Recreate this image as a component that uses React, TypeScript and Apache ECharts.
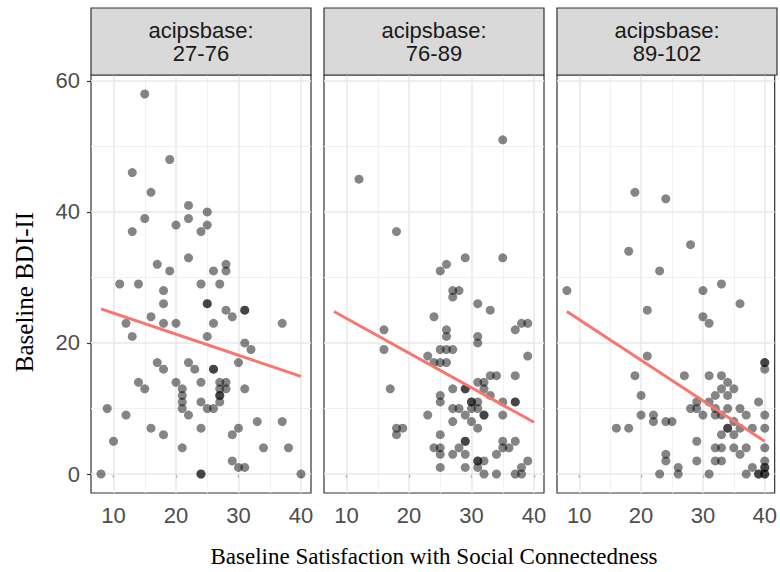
import React, { useEffect, useRef } from "react";
import * as echarts from "echarts";

// Facet labels
const facetLabels = ["acipsbase:\n27-76", "acipsbase:\n76-89", "acipsbase:\n89-102"];

// Axis ticks
const xTicks = [10, 20, 30, 40];
const xMinorTicks = [15, 25, 35];
const yTicks = [0, 20, 40, 60];
const yMinorTicks = [10, 30, 50];

// Axis titles
const xTitle = "Baseline Satisfaction with Social Connectedness";
const yTitle = "Baseline BDI-II";

// Panel 1: acipsbase 27-76  [satisfaction, BDI-II]
const panel1Points = [
  [15, 58], [19, 48], [13, 46], [16, 43], [22, 41], [25, 40], [15, 39], [22, 39], [20, 38], [25, 38],
  [13, 37], [24, 37], [22, 33], [17, 32], [28, 32], [19, 31], [26, 31], [28, 31], [11, 29], [14, 29],
  [24, 29], [27, 29], [18, 28], [18, 26], [25, 26], [25, 26], [28, 25], [31, 25], [31, 25], [16, 24],
  [29, 24], [12, 23], [18, 23], [20, 23], [26, 23], [37, 23], [13, 21], [25, 21], [31, 20], [32, 19],
  [17, 17], [18, 16], [22, 17], [23, 16], [26, 16], [26, 16], [30, 17], [14, 14], [15, 13], [20, 14],
  [21, 13], [24, 14], [27, 14], [28, 14], [27, 13], [28, 13], [27, 12], [27, 12], [21, 12], [21, 11],
  [21, 10], [24, 11], [31, 13], [25, 10], [26, 10], [27, 11], [9, 10], [12, 9], [22, 9], [16, 7],
  [18, 6], [24, 7], [33, 8], [37, 8], [30, 7], [29, 6], [10, 5], [21, 4], [34, 4], [38, 4],
  [29, 2], [30, 1], [31, 1], [8, 0], [24, 0], [24, 0], [40, 0],
];

// Panel 2: acipsbase 76-89
const panel2Points = [
  [35, 51], [12, 45], [18, 37], [29, 33], [35, 33], [26, 32], [25, 31],
  [27, 28], [28, 28], [27, 27], [31, 26], [33, 25], [24, 24], [16, 22], [26, 22], [26, 21], [31, 21],
  [31, 20], [37, 22], [38, 23], [39, 23], [16, 19], [25, 19], [26, 19], [27, 19], [23, 18], [24, 17],
  [25, 17], [26, 17], [39, 18], [33, 15], [34, 15], [37, 15], [31, 14], [32, 14], [17, 13], [27, 13],
  [29, 13], [29, 13], [32, 13], [25, 12], [25, 11], [33, 12], [30, 11], [30, 11], [31, 11], [35, 11],
  [37, 11], [37, 11], [27, 10], [28, 10], [30, 10], [31, 10], [23, 9], [29, 9], [32, 9], [32, 9],
  [35, 9], [27, 8], [30, 8], [31, 7], [18, 7], [19, 7], [18, 6], [25, 6], [29, 5], [29, 5],
  [35, 5], [37, 5], [24, 4], [25, 4], [28, 4], [34, 3], [35, 4], [36, 4], [25, 3], [27, 3],
  [29, 3], [31, 2], [31, 2], [32, 2], [39, 2], [38, 1], [37, 0], [38, 0], [25, 1], [29, 1],
  [31, 1], [32, 0], [34, 0],
];

// Panel 3: acipsbase 89-102
const panel3Points = [
  [19, 43], [24, 42], [28, 35], [18, 34], [23, 31], [33, 29], [8, 28], [30, 28], [36, 26], [21, 25],
  [30, 24], [31, 23], [21, 18], [40, 17], [40, 17], [40, 16], [19, 15], [27, 15], [31, 15], [33, 15],
  [34, 14], [33, 13], [35, 13], [20, 12], [32, 12], [34, 12], [39, 11], [29, 11], [31, 11], [28, 10],
  [29, 10], [32, 10], [34, 10], [36, 10], [20, 9], [22, 9], [30, 9], [32, 9], [33, 9], [37, 9],
  [40, 9], [22, 8], [24, 8], [25, 8], [35, 8], [16, 7], [18, 7], [34, 7], [34, 7], [36, 7],
  [38, 7], [40, 7], [33, 6], [35, 6], [29, 5], [32, 4], [33, 4], [35, 4], [37, 4], [40, 4],
  [36, 3], [24, 3], [24, 2], [29, 2], [32, 2], [33, 2], [40, 2], [26, 1], [38, 1], [40, 1],
  [40, 1], [23, 0], [26, 0], [31, 0], [37, 0], [39, 0], [39, 0], [40, 0], [40, 0],
];

// Linear fit endpoints per panel [x, y]
const fitPanel1 = [[8, 25.2], [40, 14.9]];
const fitPanel2 = [[8, 24.8], [40, 7.9]];
const fitPanel3 = [[8, 24.8], [40, 5.0]];

const panels = [panel1Points, panel2Points, panel3Points];
const fits = [fitPanel1, fitPanel2, fitPanel3];

export default function App() {
  const ref = useRef<HTMLDivElement>(null);

  useEffect(() => {
    if (!ref.current) return;
    const chart = echarts.init(ref.current, null, { renderer: "svg" });

    const lefts = [91, 324, 557];
    const pw = 220;
    const top = 75;
    const ph = 418;
    const stripTop = 8;
    const sansFont = "'Liberation Sans', Arial, sans-serif";
    const serifFont = "'Liberation Serif', 'Times New Roman', serif";

    const grid = lefts.map((l) => ({
      left: l,
      top,
      width: pw,
      height: ph,
      show: true,
      borderColor: "#333333",
      borderWidth: 1.2,
      backgroundColor: "#ffffff",
    }));

    const xAxis = lefts.map((_, i) => ({
      gridIndex: i,
      type: "value",
      min: 6.4,
      max: 41.6,
      splitLine: { show: false },
      axisLine: { show: false },
      axisTick: { show: true, customValues: xTicks, length: 4, lineStyle: { color: "#333333", width: 1.2 } },
      axisLabel: { customValues: xTicks, fontSize: 22, color: "#4d4d4d", fontFamily: sansFont, margin: 11 },
    }));

    const yAxis = lefts.map((_, i) => ({
      gridIndex: i,
      type: "value",
      min: -2.9,
      max: 60.9,
      splitLine: { show: false },
      axisLine: { show: false },
      axisTick: { show: i === 0, customValues: yTicks, length: 4, lineStyle: { color: "#333333", width: 1.2 } },
      axisLabel: { show: i === 0, customValues: yTicks, fontSize: 22, color: "#4d4d4d", fontFamily: sansFont, margin: 11 },
    }));

    const majorStyle = { color: "#e8e8e8", width: 1.5, type: "solid" };
    const minorStyle = { color: "#f0f0f0", width: 1, type: "solid" };

    const series: any[] = [];
    panels.forEach((pts, i) => {
      series.push({
        type: "line",
        xAxisIndex: i,
        yAxisIndex: i,
        data: [],
        z: 1,
        markLine: {
          silent: true,
          z: 1,
          symbol: ["none", "none"],
          label: { show: false },
          emphasis: { disabled: true },
          data: [
            ...xMinorTicks.map((v) => ({ xAxis: v, lineStyle: minorStyle })),
            ...yMinorTicks.map((v) => ({ yAxis: v, lineStyle: minorStyle })),
            ...xTicks.map((v) => ({ xAxis: v, lineStyle: majorStyle })),
            ...yTicks.map((v) => ({ yAxis: v, lineStyle: majorStyle })),
          ],
        },
      });
      series.push({
        type: "scatter",
        xAxisIndex: i,
        yAxisIndex: i,
        data: pts,
        symbolSize: 9,
        z: 3,
        itemStyle: { color: "rgba(0,0,0,0.6)" },
      });
      series.push({
        type: "line",
        xAxisIndex: i,
        yAxisIndex: i,
        data: fits[i],
        showSymbol: false,
        symbol: "none",
        z: 4,
        lineStyle: { color: "#F8766D", width: 3 },
      });
    });

    const graphic: any[] = [];
    lefts.forEach((l, i) => {
      graphic.push({
        type: "rect",
        shape: { x: l, y: stripTop, width: pw, height: top - stripTop },
        style: { fill: "#d9d9d9", stroke: "#333333", lineWidth: 1.2 },
        z: 10,
      });
      graphic.push({
        type: "text",
        x: l + pw / 2,
        y: (stripTop + top) / 2,
        z: 11,
        style: {
          text: facetLabels[i],
          fontSize: 22,
          lineHeight: 23,
          fontFamily: sansFont,
          fill: "#1a1a1a",
          align: "center",
          verticalAlign: "middle",
        },
      });
    });
    graphic.push({
      type: "text",
      x: (lefts[0] + lefts[2] + pw) / 2,
      y: 556,
      style: {
        text: xTitle,
        fontSize: 23,
        fontFamily: serifFont,
        fill: "#000000",
        align: "center",
        verticalAlign: "middle",
      },
    });
    graphic.push({
      type: "text",
      x: 24,
      y: top + ph / 2 + 8,
      rotation: Math.PI / 2,
      style: {
        text: yTitle,
        fontSize: 25,
        fontFamily: serifFont,
        fill: "#000000",
        align: "center",
        verticalAlign: "middle",
      },
    });

    chart.setOption({
      animation: false,
      backgroundColor: "#ffffff",
      grid,
      xAxis,
      yAxis,
      series,
      graphic,
    });

    return () => {
      chart.dispose();
    };
  }, []);

  return (
    <div
      ref={ref}
      style={{ position: "fixed", left: 0, top: 0, width: 780, height: 572 }}
    />
  );
}
